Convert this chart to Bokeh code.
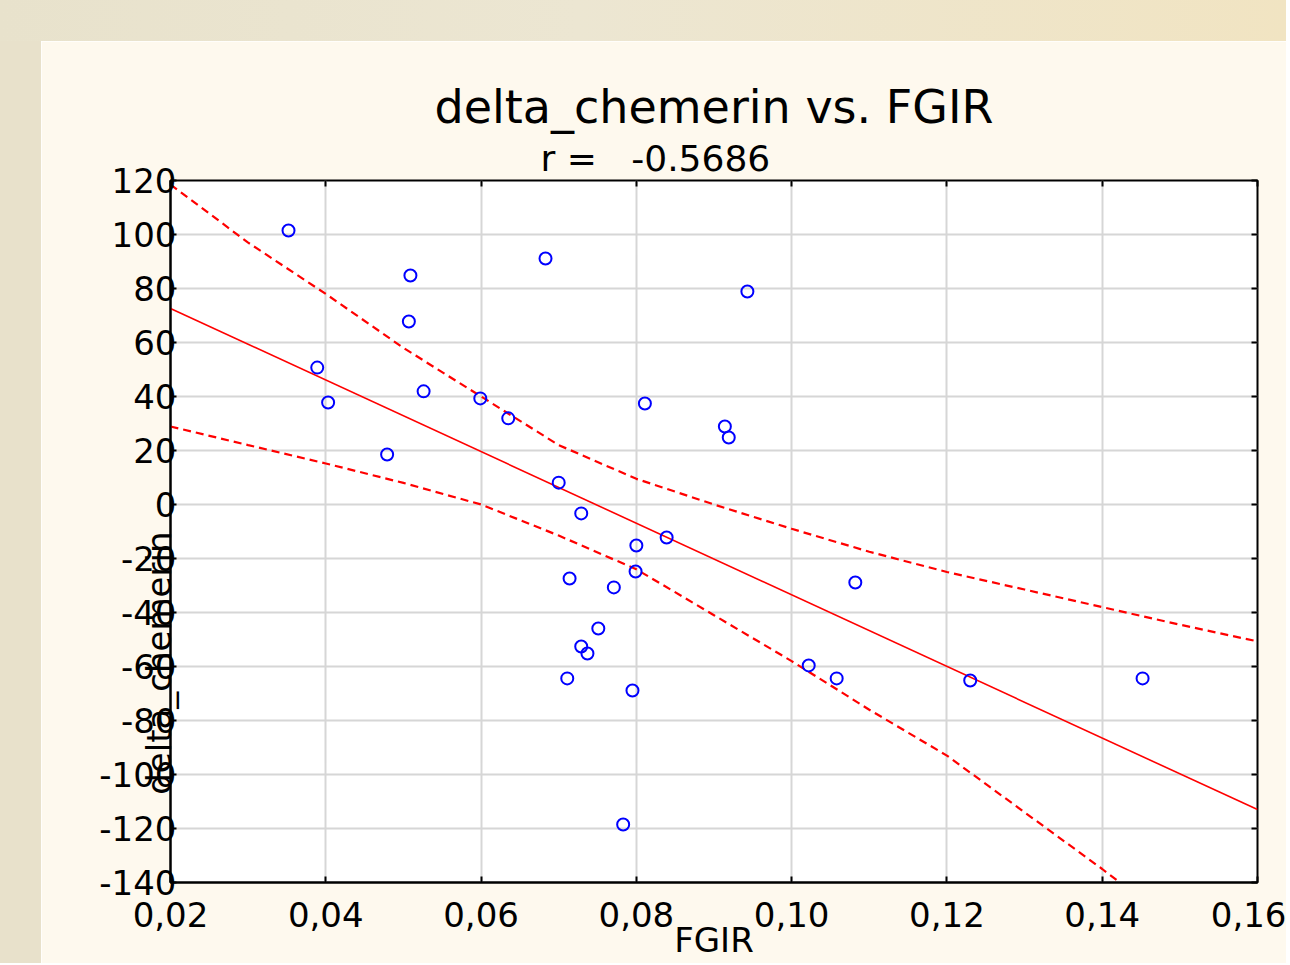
import math
from bokeh.plotting import figure
from bokeh.models import (Range1d, FixedTicker, CustomJSTickFormatter, Title,
                          Div, LinearAxis)
from bokeh.layouts import column, row
from bokeh.embed import file_html
from bokeh.resources import INLINE

# ---- data ----
fgir = [0.0352, 0.0509, 0.0507, 0.0389, 0.0403, 0.0526, 0.0479, 0.0683,
        0.0599, 0.0635, 0.0943, 0.0811, 0.0914, 0.0919, 0.0700, 0.0729,
        0.0839, 0.0800, 0.0799, 0.0714, 0.0771, 0.0751, 0.0729, 0.0737,
        0.0711, 0.0795, 0.1022, 0.1058, 0.1082, 0.1230, 0.1452, 0.0783]
delta_chemerin = [101.5, 84.8, 67.8, 50.7, 37.8, 41.9, 18.5, 91.1,
                  39.3, 31.9, 78.9, 37.4, 28.9, 24.8, 8.1, -3.3,
                  -12.2, -15.2, -24.8, -27.4, -30.7, -45.9, -52.6, -55.2,
                  -64.4, -68.9, -59.6, -64.4, -28.9, -65.2, -64.4, -118.5]

fit_x = [0.02, 0.16]
fit_y = [72.6, -113.0]

band_x = [0.02, 0.03, 0.04, 0.05, 0.06, 0.07, 0.08, 0.09,
          0.10, 0.11, 0.12, 0.13, 0.14, 0.15, 0.16]
band_upper = [118.5, 97, 78, 58, 40, 22, 9.5, 0,
              -9, -17.5, -25, -31.5, -38, -44.5, -50.7]
band_lower = [28.9, 22, 15.2, 8, 0, -11.5, -24, -41,
              -58, -76, -93, -114, -135, -157, -178]

x_ticks = [0.02, 0.04, 0.06, 0.08, 0.10, 0.12, 0.14, 0.16]
y_ticks = [-140, -120, -100, -80, -60, -40, -20, 0, 20, 40, 60, 80, 100, 120]

title_text = "delta_chemerin vs. FGIR"
subtitle_text = "r =\u00a0\u00a0\u00a0-0.5686"
x_label = "FGIR"
y_label = "delta_chemerin"

FONT = "DejaVu Sans"

p = figure(width=1245, height=922,
           x_range=Range1d(0.02, 0.16), y_range=Range1d(-140, 120),
           output_backend="svg", toolbar_location=None,
           min_border_left=129, min_border_right=29,
           min_border_top=139, min_border_bottom=81,
           background_fill_color="white", border_fill_color="#fef9ee",
           outline_line_color="black", outline_line_width=2)

xa = p.below[0]
ya = p.left[0]

# inward ticks on the top and right edges of the frame
top_ax = LinearAxis(ticker=FixedTicker(ticks=x_ticks),
                    formatter=CustomJSTickFormatter(code="return '';"),
                    major_tick_in=6, major_tick_out=0, major_tick_line_width=2,
                    minor_tick_line_color=None, axis_line_color=None,
                    major_label_standoff=0, major_label_text_font_size="1px")
right_ax = LinearAxis(ticker=FixedTicker(ticks=y_ticks),
                      formatter=CustomJSTickFormatter(code="return '';"),
                      major_tick_in=6, major_tick_out=0, major_tick_line_width=2,
                      minor_tick_line_color=None, axis_line_color=None,
                      major_label_standoff=0, major_label_text_font_size="1px")
p.add_layout(top_ax, "above")
p.add_layout(right_ax, "right")

# titles
p.add_layout(Title(text=subtitle_text, align="left", offset=370,
                   text_font=FONT, text_font_size="36px",
                   text_font_style="normal", text_color="black", standoff=4),
             "above")
p.add_layout(Title(text=title_text, align="center",
                   text_font=FONT, text_font_size="46px",
                   text_font_style="normal", text_color="black", standoff=0),
             "above")

# main axes
for ax in (xa, ya):
    ax.major_tick_in = 6
    ax.major_tick_out = 0
    ax.minor_tick_line_color = None
    ax.axis_line_width = 2
    ax.major_tick_line_width = 2
    ax.major_label_text_font = FONT
    ax.major_label_text_font_size = "34px"
    ax.major_label_text_color = "black"
    ax.axis_label_text_font = FONT
    ax.axis_label_text_font_size = "34px"
    ax.axis_label_text_font_style = "normal"
    ax.axis_label_text_color = "black"

xa.ticker = FixedTicker(ticks=x_ticks)
xa.formatter = CustomJSTickFormatter(code="return tick.toFixed(2).replace('.', ',');")
xa.major_label_standoff = 19
xa.axis_label = x_label
xa.axis_label_standoff = -10

ya.ticker = FixedTicker(ticks=y_ticks)
ya.formatter = CustomJSTickFormatter(code="return tick.toFixed(0);")
ya.major_label_standoff = -6
ya.axis_label = y_label
ya.axis_label_standoff = -63
if "axis_label_orientation" in ya.properties():
    ya.axis_label_orientation = math.pi / 2

p.xgrid.grid_line_color = "#d6d6d6"
p.ygrid.grid_line_color = "#d6d6d6"
p.xgrid.grid_line_width = 2
p.ygrid.grid_line_width = 2

# confidence bands and fit
p.line(band_x, band_upper, line_color="#ff0000", line_width=2.2, line_dash="8 5")
p.line(band_x, band_lower, line_color="#ff0000", line_width=2.2, line_dash="8 5")
p.line(fit_x, fit_y, line_color="#ff0000", line_width=1.6)

# points
p.scatter(fgir, delta_chemerin, marker="circle", size=12,
          fill_color=None, line_color="#0000ff", line_width=2)

top_band = Div(text="", width=1286, height=41, margin=0,
               styles={"background": "linear-gradient(90deg, #e8e2cc 0%, #ece6d2 45%, #f1e4c2 100%)"})
left_band = Div(text="", width=41, height=922, margin=0,
                styles={"background": "#e8e1cb"})

layout = column(top_band, row(left_band, p))

open("out.html", "w").write(file_html(layout, INLINE))
